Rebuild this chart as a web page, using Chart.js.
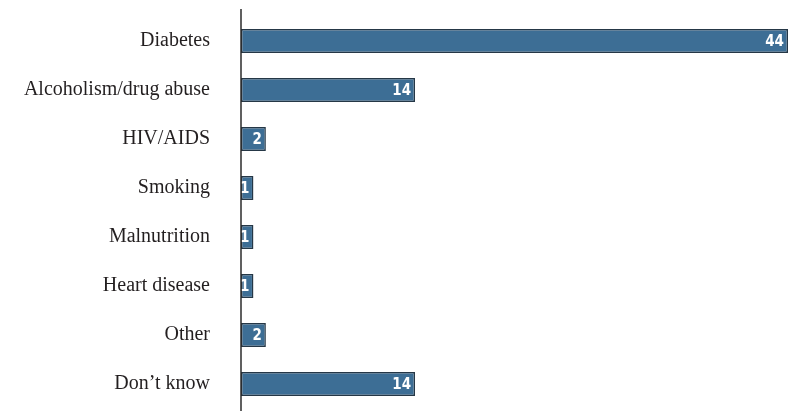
<!DOCTYPE html>
<html>
<head>
<meta charset="utf-8">
<script src="https://cdn.jsdelivr.net/npm/chart.js@4"></script>
<style>
  html, body { margin: 0; padding: 0; background: #fff; }
  canvas { display: block; }
</style>
</head>
<body>
<canvas id="chart" width="788" height="411"></canvas>
<script>
const categories = ['Diabetes', 'Alcoholism/drug abuse', 'HIV/AIDS', 'Smoking', 'Malnutrition', 'Heart disease', 'Other', 'Don\u2019t know'];
const values = [44, 14, 2, 1, 1, 1, 2, 14];

// white value inside the end of each bar
const barValues = {
    id: 'barValues',
    afterDatasetsDraw(chart) {
        const ctx = chart.ctx;
        const meta = chart.getDatasetMeta(0);
        ctx.save();
        ctx.fillStyle = '#fff';
        ctx.font = 'bold 15px "DejaVu Sans Condensed", "DejaVu Sans", sans-serif';
        if ('fontStretch' in ctx) ctx.fontStretch = 'condensed';
        ctx.textAlign = 'right';
        ctx.textBaseline = 'middle';
        meta.data.forEach((bar, i) => {
            ctx.fillText(String(values[i]), bar.x - 4, bar.y + 1);
        });
        ctx.restore();
    }
};

// vertical axis line, a bit taller than the plot area
const axisLine = {
    id: 'axisLine',
    afterDatasetsDraw(chart) {
        const ctx = chart.ctx;
        const x = chart.chartArea.left;
        ctx.save();
        ctx.strokeStyle = '#2b2b2b';
        ctx.lineWidth = 1.5;
        ctx.beginPath();
        ctx.moveTo(x, 9);
        ctx.lineTo(x, 411);
        ctx.stroke();
        ctx.restore();
    }
};

new Chart(document.getElementById('chart'), {
    type: 'bar',
    data: {
        labels: categories,
        datasets: [{
            data: values,
            backgroundColor: '#3d6e95',
            borderColor: '#253746',
            borderWidth: 1.5,
            borderSkipped: false,
            barPercentage: 0.49,
            categoryPercentage: 1
        }]
    },
    options: {
        indexAxis: 'y',
        responsive: false,
        animation: false,
        layout: { padding: { top: 16.5, bottom: 2.5, right: 0, left: 0 } },
        plugins: { legend: { display: false }, tooltip: { enabled: false } },
        scales: {
            x: {
                display: false,
                min: 0,
                max: 44
            },
            y: {
                grid: { display: false, drawTicks: false },
                border: { display: false },
                afterFit(scale) {
                    scale.width = 241;
                    // tick padding should only push labels sideways
                    scale.paddingTop = 0;
                    scale.paddingBottom = 0;
                },
                ticks: {
                    padding: 31,
                    color: '#231f20',
                    font: { family: '"Liberation Serif", "DejaVu Serif", serif', size: 20 }
                }
            }
        }
    },
    plugins: [barValues, axisLine]
});
</script>
</body>
</html>
